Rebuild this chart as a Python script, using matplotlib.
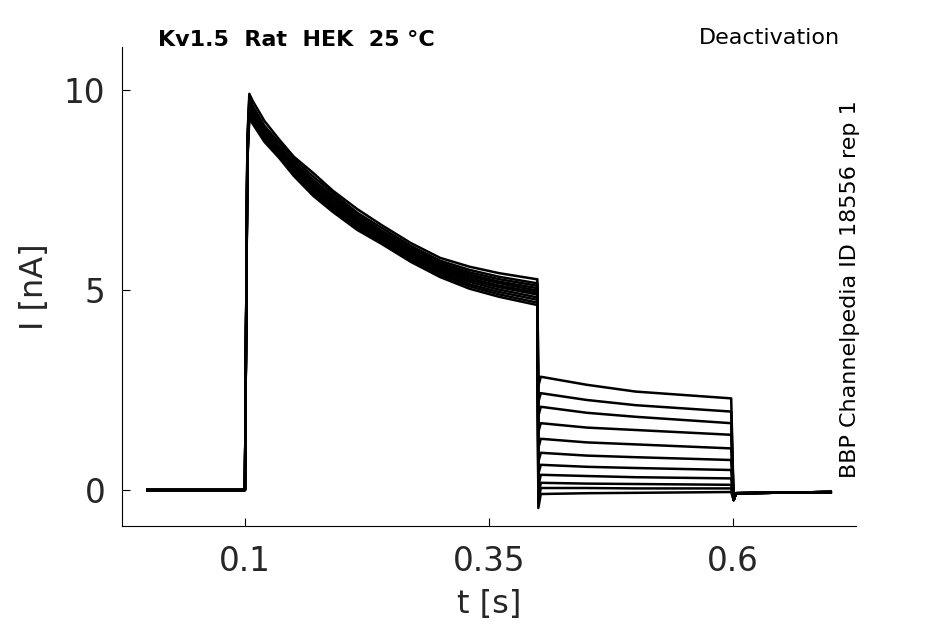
import numpy as np
import matplotlib.pyplot as plt

# activation step (shared time samples), one row per sweep
act_t = [0.1025, 0.1045, 0.108, 0.12, 0.135, 0.15, 0.17, 0.19, 0.215, 0.24, 0.27, 0.30, 0.33, 0.36, 0.398]
act_i = [
    [8.8, 9.9, 9.72, 9.22, 8.76, 8.33, 7.92, 7.48, 7.02, 6.62, 6.17, 5.80, 5.58, 5.42, 5.27],
    [8.7, 9.8, 9.6, 9.1, 8.68, 8.27, 7.83, 7.42, 6.93, 6.55, 6.10, 5.73, 5.50, 5.33, 5.17],
    [8.6, 9.72, 9.55, 9.05, 8.6, 8.2, 7.75, 7.35, 6.88, 6.48, 6.05, 5.68, 5.44, 5.27, 5.11],
    [8.55, 9.65, 9.48, 9.0, 8.56, 8.14, 7.68, 7.3, 6.82, 6.44, 6.01, 5.63, 5.39, 5.21, 5.05],
    [8.5, 9.6, 9.42, 8.96, 8.52, 8.09, 7.62, 7.24, 6.77, 6.39, 5.97, 5.59, 5.34, 5.17, 4.99],
    [8.45, 9.55, 9.38, 8.92, 8.48, 8.05, 7.58, 7.18, 6.72, 6.34, 5.93, 5.55, 5.29, 5.11, 4.94],
    [8.4, 9.5, 9.33, 8.87, 8.44, 8.01, 7.53, 7.13, 6.68, 6.3, 5.89, 5.51, 5.25, 5.07, 4.89],
    [8.35, 9.45, 9.28, 8.83, 8.4, 7.97, 7.48, 7.08, 6.63, 6.26, 5.84, 5.46, 5.20, 5.01, 4.82],
    [8.3, 9.4, 9.24, 8.79, 8.37, 7.93, 7.44, 7.03, 6.59, 6.22, 5.79, 5.42, 5.14, 4.95, 4.76],
    [8.25, 9.35, 9.2, 8.74, 8.33, 7.89, 7.4, 6.99, 6.54, 6.18, 5.75, 5.37, 5.09, 4.89, 4.69],
    [8.2, 9.3, 9.15, 8.7, 8.3, 7.85, 7.35, 6.95, 6.5, 6.15, 5.70, 5.32, 5.03, 4.83, 4.63],
]

# tail (deactivation) levels
tail_dip = [2.6, 2.2, 1.85, 1.45, 1.05, 0.7, 0.4, 0.1, -0.15, -0.3, -0.45]
tail_start = [2.83, 2.42, 2.08, 1.67, 1.28, 0.93, 0.63, 0.38, 0.18, 0.05, -0.1]
tail_45 = [2.63, 2.25, 1.93, 1.56, 1.19, 0.86, 0.58, 0.35, 0.16, 0.05, -0.08]
tail_mid = [2.46, 2.12, 1.83, 1.5, 1.14, 0.82, 0.55, 0.32, 0.15, 0.04, -0.07]
tail_end = [2.29, 1.96, 1.67, 1.38, 1.04, 0.75, 0.5, 0.29, 0.13, 0.04, -0.05]

pre_t = [0.0, 0.1]
pre_i = [0.0, 0.0]
post_t = [0.6005, 0.603, 0.7]
post_i = [-0.25, -0.08, -0.05]

fig = plt.figure(figsize=(9.45, 6.24), dpi=100)
ax = fig.add_axes([0.129, 0.157, 0.777, 0.768])

for k in range(len(act_i)):
    t = pre_t + act_t + [0.3995, 0.4005, 0.403, 0.45, 0.5, 0.598] + post_t
    i = (pre_i + act_i[k]
         + [act_i[k][-1], tail_dip[k], tail_start[k], tail_45[k], tail_mid[k], tail_end[k]]
         + post_i)
    ax.plot(t, i, color='black', lw=1.8)

ax.set_xlim(-0.026, 0.726)
ax.set_ylim(-0.9, 11.075)
ax.set_xticks([0.1, 0.35, 0.6])
ax.set_xticklabels(['0.1', '0.35', '0.6'])
ax.set_yticks([0, 5, 10])
ax.spines['top'].set_visible(False)
ax.spines['right'].set_visible(False)
ax.tick_params(direction='in', length=6, labelsize=23.5, labelcolor='#262626')
ax.tick_params(axis='x', pad=14)
ax.tick_params(axis='y', pad=12)
ax.set_xlabel('t [s]', fontsize=23, color='#262626')
ax.set_ylabel('I [nA]', fontsize=23, color='#262626')
ax.xaxis.set_label_coords(0.5, -0.132)
ax.yaxis.set_label_coords(-0.098, 0.5)

fig.text(158 / 945, 1 - 40 / 624, 'Kv1.5  Rat  HEK  25 °C', fontsize=16, fontweight='bold',
         ha='left', va='center')
fig.text(840 / 945, 1 - 38 / 624, 'Deactivation', fontsize=16, ha='right', va='center')
fig.text(850 / 945, 1 - 100 / 624, 'BBP Channelpedia ID 18556 rep 1', fontsize=16,
         rotation=90, ha='center', va='top')

fig.savefig('out.png', dpi=100)
